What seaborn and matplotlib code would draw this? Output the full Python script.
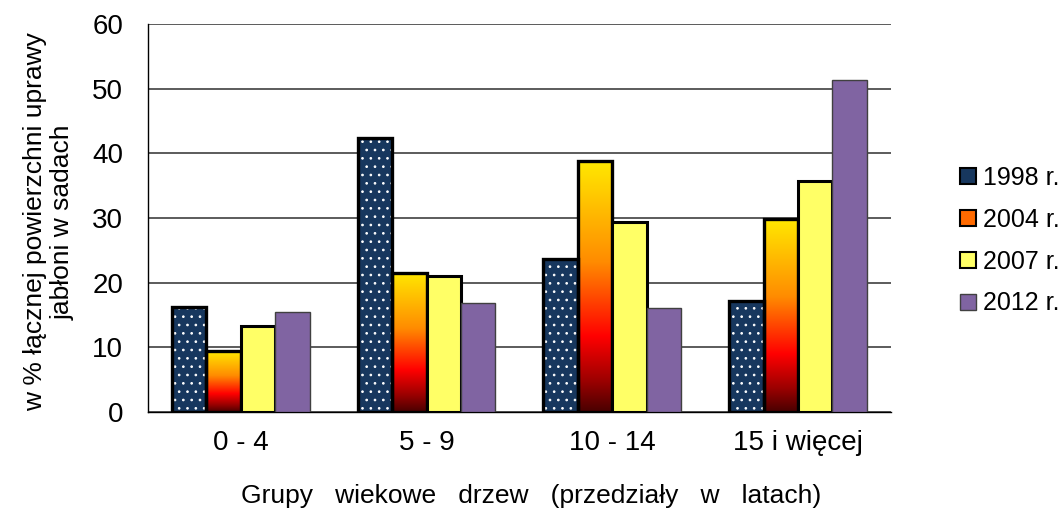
import numpy as np
import pandas as pd
import matplotlib
matplotlib.use("Agg")
import matplotlib.pyplot as plt
from matplotlib.colors import LinearSegmentedColormap
from matplotlib.patches import Patch, Rectangle
import seaborn as sns

categories = ["0 - 4", "5 - 9", "10 - 14", "15 i więcej"]
years = ["1998 r.", "2004 r.", "2007 r.", "2012 r."]
v1998 = [16.2, 42.4, 23.7, 17.2]
v2004 = [9.4, 21.5, 38.8, 29.8]
v2007 = [13.3, 21.0, 29.4, 35.7]
v2012 = [15.5, 16.9, 16.0, 51.3]
yticks = [0, 10, 20, 30, 40, 50, 60]

colors = {"1998 r.": "#17375E", "2004 r.": "#FF6A00", "2007 r.": "#FFFF66", "2012 r.": "#8064A2"}

rows = []
for y, vals in zip(years, [v1998, v2004, v2007, v2012]):
    for c, v in zip(categories, vals):
        rows.append({"cat": c, "year": y, "val": v})
df = pd.DataFrame(rows)

sns.set_style("white")
plt.rcParams["font.family"] = ["Liberation Sans", "DejaVu Sans"]
plt.rcParams["hatch.linewidth"] = 0.7
for k in ["text.color", "axes.labelcolor", "xtick.color", "ytick.color"]:
    plt.rcParams[k] = "black"

fig = plt.figure(figsize=(10.61, 5.08), dpi=100)
ax = fig.add_axes([0.1395, 0.189, 0.700, 0.764])

sns.barplot(data=df, x="cat", y="val", hue="year", palette=colors, width=0.74,
            saturation=1, ax=ax, legend=False, zorder=3)

grad_cmap = LinearSegmentedColormap.from_list(
    "fire", [(0.0, "#4a0000"), (0.12, "#9a0000"), (0.3, "#ff0000"),
             (0.6, "#ff8c00"), (1.0, "#ffe800")])
grad = np.linspace(0, 1, 256).reshape(-1, 1)

for i, cont in enumerate(ax.containers):
    for bar in cont:
        x0, y0 = bar.get_x(), bar.get_y()
        w, h = bar.get_width(), bar.get_height()
        if i == 0:
            # dotted fill: white hatch on navy, then black outline on top
            bar.set_edgecolor("white")
            bar.set_linewidth(0)
            bar.set_hatch("..")
            ax.add_patch(Rectangle((x0, y0), w, h, facecolor="none",
                                   edgecolor="black", linewidth=2.4, zorder=3.2))
        elif i == 1:
            im = ax.imshow(grad, extent=[x0, x0 + w, y0, y0 + h], origin="lower",
                           aspect="auto", cmap=grad_cmap, zorder=2.5)
            im.set_clip_path(bar)
            bar.set_facecolor("none")
            bar.set_edgecolor("black")
            bar.set_linewidth(2.4)
        elif i == 2:
            bar.set_edgecolor("black")
            bar.set_linewidth(2.2)
        else:
            bar.set_edgecolor("#404040")
            bar.set_linewidth(1.0)

ax.set_xlim(-0.5, 3.5)
ax.set_ylim(0, 60)
ax.set_yticks(yticks)
ax.set_yticklabels([str(t) for t in yticks], fontsize=20)
ax.yaxis.grid(True, color="#404040", linewidth=1.2, zorder=0)
ax.set_axisbelow(True)
ax.set_xticks(range(len(categories)))
ax.set_xticklabels(categories, fontsize=20)
ax.tick_params(axis="x", length=0, pad=13)
ax.set_xticks([-0.5, 0.5, 1.5, 2.5, 3.5], minor=True)
ax.tick_params(axis="x", which="minor", length=7, width=1, color="black", direction="out")
ax.tick_params(axis="y", length=7, width=1, color="black", direction="out", pad=11)
for s in ["top", "right"]:
    ax.spines[s].set_visible(False)
for s in ["left", "bottom"]:
    ax.spines[s].set_color("black")
    ax.spines[s].set_linewidth(1.0)

ax.set_xlabel("Grupy   wiekowe   drzew   (przedziały   w   latach)", fontsize=19)
ax.xaxis.set_label_coords(0.516, -0.185)
ax.set_ylabel("w % łącznej powierzchni uprawy\njabłoni w sadach", fontsize=19,
              linespacing=1.2)
ax.yaxis.set_label_coords(-0.099, 0.49)

handles = [
    Patch(facecolor="#17375E", edgecolor="black", linewidth=1.5, label=years[0]),
    Patch(facecolor="#FF6A00", edgecolor="black", linewidth=1.5, label=years[1]),
    Patch(facecolor="#FFFF66", edgecolor="black", linewidth=1.5, label=years[2]),
    Patch(facecolor="#8064A2", edgecolor="#404040", linewidth=1.0, label=years[3]),
]
leg = fig.legend(handles=handles, loc="center left", bbox_to_anchor=(0.905, 0.526),
                 frameon=False, fontsize=18, handlelength=0.62, handleheight=0.62,
                 handletextpad=0.3, labelspacing=0.71, borderpad=0, borderaxespad=0)

fig.savefig("out.png", dpi=100)
